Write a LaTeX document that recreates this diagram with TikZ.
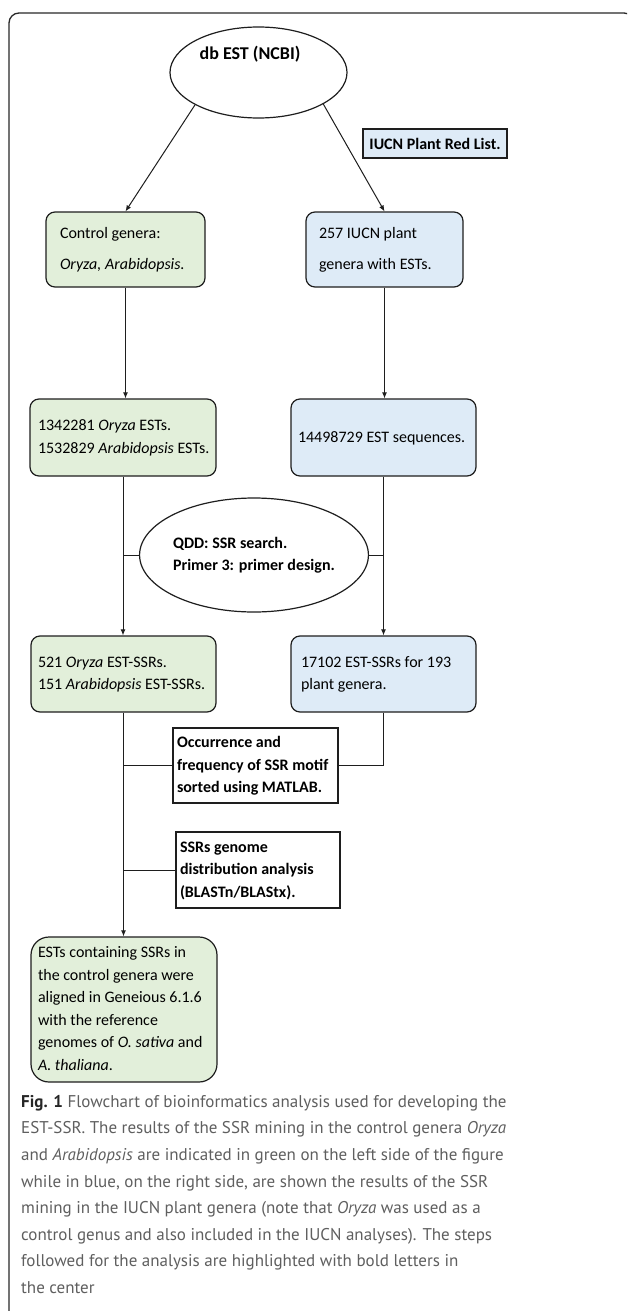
\documentclass[tikz,border=0pt]{standalone}
\usepackage{fontspec}
\setmainfont{Carlito}
\newfontfamily\capfont{PT Sans}
\usetikzlibrary{shapes.geometric,arrows.meta,calc}
\definecolor{greenfill}{RGB}{226,239,218}
\definecolor{bluefill}{RGB}{222,235,247}
\definecolor{linec}{RGB}{30,30,30}
\definecolor{capgray}{RGB}{95,95,95}
\definecolor{framec}{RGB}{40,40,40}
\newcommand{\dtf}{\fontsize{16}{22.5}\selectfont}
\newcommand{\lbox}[2]{\makebox[#1][l]{\begin{tabular}{@{}l@{}}#2\end{tabular}}}
\tikzset{
  flowbox/.style={draw=linec, line width=1.2pt, rounded corners=9pt, inner ysep=0pt, font=\dtf, text=black},
  greenbox/.style={flowbox, fill=greenfill},
  bluebox/.style={flowbox, fill=bluefill},
  stepbox/.style={draw=linec, line width=1.2pt, fill=white, inner ysep=0pt, font=\dtf\bfseries, text=black},
  oval/.style={draw=linec, line width=1.2pt, ellipse, fill=white, inner sep=0pt, font=\dtf\bfseries, align=left},
  conn/.style={draw=linec, line width=1pt},
  arr/.style={conn, -{Latex[length=6pt,width=5pt]}},
}
\begin{document}
\begin{tikzpicture}[x=1pt,y=-1pt]
\useasboundingbox (0,0) rectangle (627,1311);
\clip (0,0) rectangle (627,1311);
\fill[white] (0,0) rectangle (627,1311);
% outer frame
\draw[framec, line width=1.3pt, rounded corners=10pt] (9,1315) -- (9,13) -- (634,13) -- (634,60);

% top ellipse
\node[oval, minimum width=177pt, minimum height=91pt] (db) at (258.5,72.5) {};
\node[font=\fontsize{18}{22}\selectfont\bfseries] (dbt) at (250,54) {db EST (NCBI)};

\node[draw=linec, line width=1.2pt, fill=bluefill, font=\dtf\bfseries, minimum width=144pt, minimum height=29pt, inner sep=0pt] (iucn) at (435,143.5) {IUCN Plant Red List.};

% row 1
\node[greenbox, minimum height=75pt, minimum width=159pt, inner xsep=14pt] (ctrl) at (125.5,249.5)
  {\lbox{131pt}{Control genera:\\[9pt]\textit{Oryza, Arabidopsis.}}};
\node[bluebox, minimum height=75pt, minimum width=157pt, inner xsep=13pt] (gen) at (384.5,249.5)
  {\lbox{131pt}{257 IUCN plant\\[9pt]genera with ESTs.}};

% row 2
\node[greenbox, minimum height=77pt, minimum width=186pt, inner xsep=8pt] (est1) at (123,437.5)
  {\lbox{170pt}{1342281 \textit{Oryza} ESTs.\\1532829 \textit{Arabidopsis} ESTs.}};
\node[bluebox, minimum height=77pt, minimum width=185pt, inner xsep=7pt] (est2) at (383.5,437.5)
  {\lbox{171pt}{14498729 EST sequences.}};

% qdd ellipse
\node[oval, minimum width=184pt, minimum height=114pt] (qdd) at (254,555)
  {QDD: SSR search.\\Primer 3: primer design.};

% row 3
\node[greenbox, minimum height=76pt, minimum width=185pt, inner xsep=7pt] (ssr1) at (123.5,674)
  {\lbox{171pt}{521 \textit{Oryza} EST-SSRs.\\151 \textit{Arabidopsis} EST-SSRs.}};
\node[bluebox, minimum height=76pt, minimum width=185pt, inner xsep=10pt] (ssr2) at (383.5,674)
  {\lbox{165pt}{17102 EST-SSRs for 193\\plant genera.}};

% step boxes
\node[stepbox, minimum height=75pt, minimum width=165pt, inner xsep=4pt] (occ) at (255.5,765.5)
  {\lbox{157pt}{Occurrence and\\frequency of SSR motif\\sorted using MATLAB.}};
\node[stepbox, minimum height=76pt, minimum width=164pt, inner xsep=4pt] (blast) at (258,870)
  {\lbox{156pt}{SSRs genome\\distribution analysis\\(BLASTn/BLAStx).}};

% final box
\node[greenbox, rounded corners=18pt, minimum height=145pt, minimum width=186pt, inner xsep=7pt] (final) at (124,1009.5)
  {\lbox{172pt}{ESTs containing SSRs in\\the control genera were\\aligned in Geneious 6.1.6\\with the reference\\genomes of \textit{O. sativa} and\\\textit{A. thaliana}.}};

% connectors
\draw[arr] (db.207) -- (ctrl.north);
\draw[arr] (db.-26) -- (gen.north);
\draw[arr] (ctrl.south) -- (ctrl.south |- est1.north);
\draw[arr] (gen.south) -- (gen.south |- est2.north);
\draw[arr] (est1.south) -- (est1.south |- ssr1.north);
\draw[arr] (est2.south) -- (est2.south |- ssr2.north);
\draw[conn] (qdd.west) -- (qdd.west -| est1.south);
\draw[conn] (qdd.east) -- (qdd.east -| est2.south);
\draw[arr] (ssr1.south) -- (ssr1.south |- final.north);
\draw[conn] (occ.west) -- (occ.west -| ssr1.south);
\draw[conn] (ssr2.south) |- (occ.east);
\draw[conn] (blast.west) -- (blast.west -| ssr1.south);

% caption
\node[anchor=north west, align=left, inner sep=0pt, text=capgray, font=\capfont\fontsize{17}{26.6}\selectfont] (cap) at (21,1095)
  {{\color{black!85}\bfseries Fig. 1} Flowchart of bioinformatics analysis used for developing the\\
   EST-SSR. The results of the SSR mining in the control genera \textit{Oryza}\\
   and \textit{Arabidopsis} are indicated in green on the left side of the figure\\
   while in blue, on the right side, are shown the results of the SSR\\
   mining in the IUCN plant genera (note that \textit{Oryza} was used as a\\
   control genus and also included in the IUCN analyses). The steps\\
   followed for the analysis are highlighted with bold letters in\\
   the center};
\end{tikzpicture}
\end{document}
